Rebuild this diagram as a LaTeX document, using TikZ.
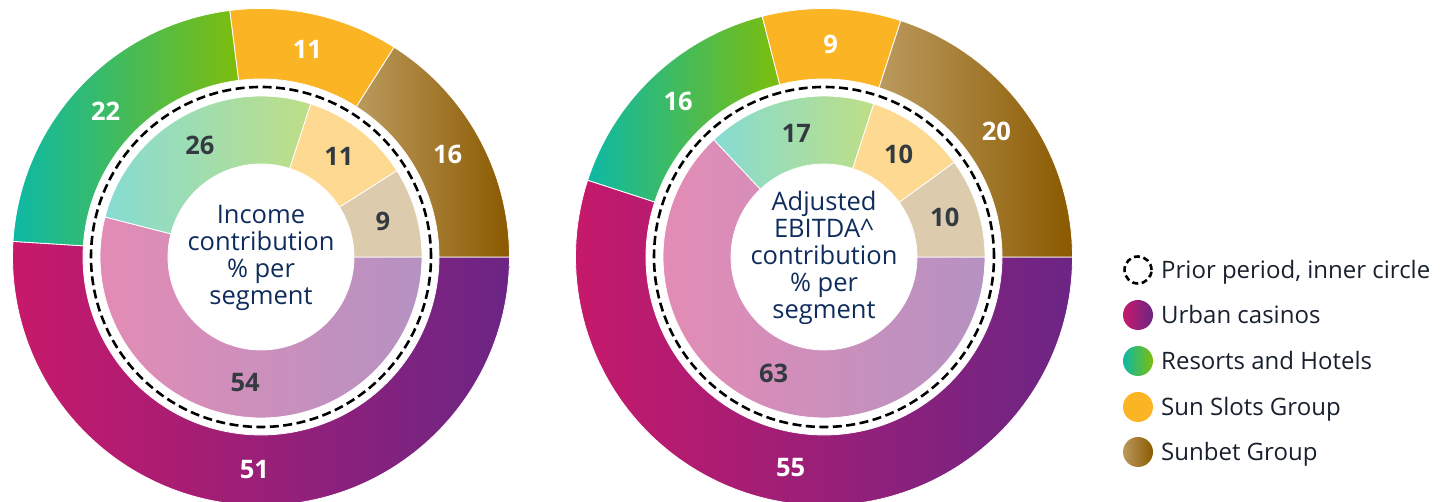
\documentclass[tikz,border=0pt]{standalone}
\usepackage{fontspec}
\setmainfont{Open Sans}
\definecolor{urbA}{HTML}{C8196A}
\definecolor{urbB}{HTML}{6B2585}
\definecolor{resA}{HTML}{0DB9A6}
\definecolor{resB}{HTML}{7DBD0C}
\definecolor{sunS}{HTML}{FBB424}
\definecolor{betA}{HTML}{BB9A5E}
\definecolor{betB}{HTML}{8B5A00}
\definecolor{betI}{HTML}{DDCBAE}
\definecolor{navy}{HTML}{0F2C5C}
\definecolor{lbldark}{HTML}{343A42}
\definecolor{legtxt}{HTML}{18202E}
\newcommand\ringseg[6]{%
  \shadedraw[draw=white,line width=0.8pt,#6] ([shift={(#4:#3)}]#1) arc[start angle=#4,end angle=#5,radius=#3] -- ([shift={(#5:#2)}]#1) arc[start angle=#5,end angle=#4,radius=#2] -- cycle;}
\tikzset{
  outlbl/.style={text=white,font=\fontsize{25.5}{30}\selectfont\bfseries,inner sep=0pt},
  inlbl/.style={text=lbldark,font=\fontsize{25.5}{30}\selectfont\bfseries,inner sep=0pt},
  ctrtxt/.style={text=navy,font=\fontsize{25.5}{27}\selectfont,align=center,inner sep=0pt},
  legtext/.style={text=legtxt,font=\fontsize{24}{28}\selectfont,inner sep=0pt,anchor=base west},
  legdot/.style={circle,minimum size=30pt,inner sep=0pt},
  priorline/.style={draw=black,line width=2.6pt,dash pattern=on 9pt off 4.5pt},
  legprior/.style={draw=black,line width=2.6pt,dash pattern=on 6pt off 3.6pt},
  urbO/.style={left color=urbA,right color=urbB},
  resO/.style={left color=resA,right color=resB},
  sunO/.style={left color=sunS,right color=sunS},
  betO/.style={left color=betA,right color=betB},
  urbI/.style={left color=urbA!50!white,right color=urbB!50!white},
  resI/.style={left color=resA!50!white,right color=resB!50!white},
  sunI/.style={left color=sunS!50!white,right color=sunS!50!white},
  betI/.style={left color=betI,right color=betI},
}
\begin{document}
\begin{tikzpicture}[x=1pt,y=1pt]
\useasboundingbox (0,0) rectangle (1441,502);
\coordinate (L) at (261,245);
\coordinate (R) at (824,245);
% ---------- left chart ----------
\ringseg{L}{178}{248.5}{0}{-183.6}{urbO}
\ringseg{L}{178}{248.5}{176.4}{97.2}{resO}
\ringseg{L}{178}{248.5}{97.2}{57.6}{sunO}
\ringseg{L}{178}{248.5}{57.6}{0}{betO}
\ringseg{L}{93}{161}{0}{-194.4}{urbI}
\ringseg{L}{93}{161}{165.6}{72}{resI}
\ringseg{L}{93}{161}{72}{32.4}{sunI}
\ringseg{L}{93}{161}{32.4}{0}{betI}
\draw[priorline] (L) circle[radius=170pt];
\node[outlbl] (lo51) at ([shift={(-91.8:213)}]L) {51};
\node[outlbl] (lo22) at ([shift={(136.8:213)}]L) {22};
\node[outlbl] (lo11) at ([shift={(77.4:213)}]L) {11};
\node[outlbl] (lo16) at ([shift={(28.8:213)}]L) {16};
\node[inlbl] (li54) at ([shift={(-97.2:127)}]L) {54};
\node[inlbl] (li26) at ([shift={(118.8:127)}]L) {26};
\node[inlbl] (li11) at ([shift={(52.2:127)}]L) {11};
\node[inlbl] (li9) at ([shift={(16.2:127)}]L) {9};
\node[ctrtxt] (lctr) at ([shift={(0,-1)}]L) {Income\\contribution\\\% per\\segment};
% ---------- right chart ----------
\ringseg{R}{178}{248.5}{0}{-198}{urbO}
\ringseg{R}{178}{248.5}{162}{104.4}{resO}
\ringseg{R}{178}{248.5}{104.4}{72}{sunO}
\ringseg{R}{178}{248.5}{72}{0}{betO}
\ringseg{R}{93}{161}{0}{-226.8}{urbI}
\ringseg{R}{93}{161}{133.2}{72}{resI}
\ringseg{R}{93}{161}{72}{36}{sunI}
\ringseg{R}{93}{161}{36}{0}{betI}
\draw[priorline] (R) circle[radius=170pt];
\node[outlbl] (ro55) at ([shift={(-99:213)}]R) {55};
\node[outlbl] (ro16) at ([shift={(133.2:213)}]R) {16};
\node[outlbl] (ro9) at ([shift={(88.2:213)}]R) {9};
\node[outlbl] (ro20) at ([shift={(36:213)}]R) {20};
\node[inlbl] (ri63) at ([shift={(-113.4:127)}]R) {63};
\node[inlbl] (ri17) at ([shift={(102.6:127)}]R) {17};
\node[inlbl] (ri10a) at ([shift={(54:127)}]R) {10};
\node[inlbl] (ri10b) at ([shift={(18:127)}]R) {10};
\node[ctrtxt] (rctr) at ([shift={(0,-1)}]R) {Adjusted\\EBITDA\textasciicircum\\contribution\\\% per\\segment};
% ---------- legend ----------
\node[legdot,legprior,minimum size=27pt] (kprior) at (1138,232) {};
\node[legdot,urbO] (kurb) at (1138,187) {};
\node[legdot,resO] (kres) at (1138,141) {};
\node[legdot,sunO] (ksun) at (1138,95) {};
\node[legdot,betO] (kbet) at (1138,50) {};
\node[legtext] (tprior) at (1161,223) {Prior period, inner circle};
\node[legtext] (turb) at (1161,178) {Urban casinos};
\node[legtext] (tres) at (1161,132) {Resorts and Hotels};
\node[legtext] (tsun) at (1161,86) {Sun Slots Group};
\node[legtext] (tbet) at (1161,41) {Sunbet Group};
\end{tikzpicture}
\end{document}
